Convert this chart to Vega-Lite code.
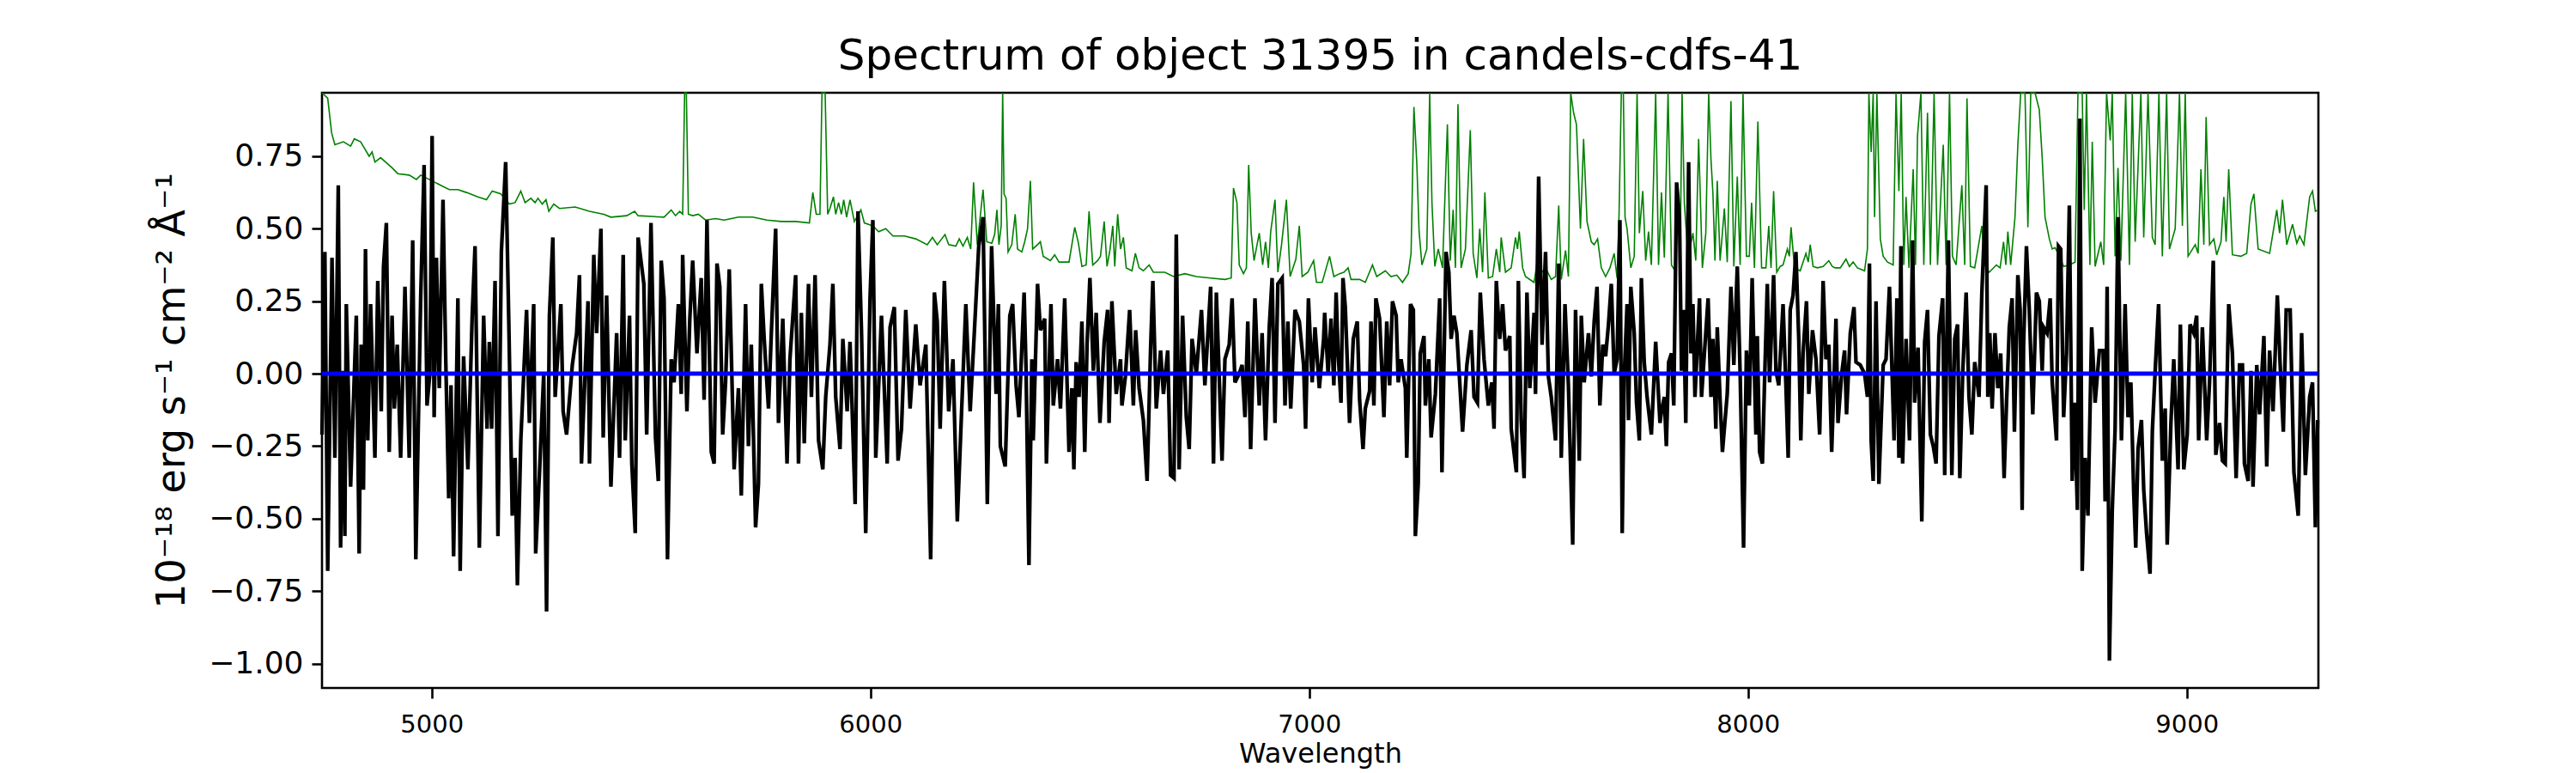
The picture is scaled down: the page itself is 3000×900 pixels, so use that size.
{
  "$schema": "https://vega.github.io/schema/vega-lite/v6.json",
  "width": 2325,
  "height": 693,
  "autosize": {"type": "none"},
  "padding": {"left": 375, "top": 108, "right": 300, "bottom": 99},
  "background": "white",
  "title": {
    "text": "Spectrum of object 31395 in candels-cdfs-41",
    "font": "DejaVu Sans",
    "fontSize": 50,
    "fontWeight": "normal",
    "color": "black",
    "anchor": "middle",
    "frame": "group",
    "baseline": "alphabetic",
    "offset": -26
  },
  "datasets": {
    "model": [{"w":4750,"m":0},{"w":9300,"m":0}],
    "flux": [
      {"w":4750,"f":-0.21},{"w":4756.5,"f":0.42},{"w":4763,"f":-0.68},{"w":4772.8,"f":0.40},{"w":4779.3,"f":-0.29},{"w":4787.1,"f":0.65},{"w":4792.4,"f":-0.60},{"w":4797.6,"f":0.01},{"w":4802.1,"f":-0.56},{"w":4805.4,"f":0.24},
      {"w":4815.2,"f":-0.39},{"w":4828.2,"f":0.20},{"w":4834.7,"f":-0.62},{"w":4839.3,"f":0.10},{"w":4844.5,"f":-0.40},{"w":4849.1,"f":0.43},{"w":4854.3,"f":-0.23},{"w":4860.8,"f":0.24},{"w":4870.6,"f":-0.29},{"w":4877.1,"f":0.32},
      {"w":4885.0,"f":-0.13},{"w":4890.2,"f":0.37},{"w":4896.7,"f":0.52},{"w":4903.2,"f":-0.27},{"w":4909.7,"f":0.20},{"w":4914.9,"f":-0.12},{"w":4921.5,"f":0.10},{"w":4929.3,"f":-0.29},{"w":4939.1,"f":0.30},{"w":4948.8,"f":-0.29},
      {"w":4956.7,"f":0.46},{"w":4963.8,"f":-0.64},{"w":4974.9,"f":0.26},{"w":4982.7,"f":0.72},{"w":4989.3,"f":-0.11},{"w":4995.8,"f":0.00},{"w":5001.0,"f":0.82},{"w":5005.6,"f":-0.15},{"w":5010.8,"f":0.40},{"w":5017.3,"f":-0.05},
      {"w":5025.8,"f":0.60},{"w":5032.3,"f":0.03},{"w":5038.8,"f":-0.43},{"w":5044.0,"f":-0.04},{"w":5049.9,"f":-0.63},{"w":5059.7,"f":0.26},{"w":5064.9,"f":-0.68},{"w":5072.7,"f":0.06},{"w":5082.5,"f":-0.33},{"w":5092.3,"f":0.20},
      {"w":5098.8,"f":0.44},{"w":5108.6,"f":-0.60},{"w":5118.4,"f":0.20},{"w":5126.2,"f":-0.19},{"w":5131.4,"f":0.11},{"w":5136.6,"f":-0.19},{"w":5144.4,"f":0.32},{"w":5151.0,"f":-0.56},{"w":5158.8,"f":0.42},{"w":5168.6,"f":0.73},
      {"w":5175.7,"f":0.18},{"w":5183.6,"f":-0.49},{"w":5190.1,"f":-0.29},{"w":5195.3,"f":-0.73},{"w":5203.1,"f":-0.23},{"w":5216.2,"f":0.22},{"w":5222.7,"f":-0.17},{"w":5232.5,"f":0.24},{"w":5237.0,"f":-0.62},{"w":5245.5,"f":-0.35},
      {"w":5255.3,"f":0.00},{"w":5261.8,"f":-0.82},{"w":5268.3,"f":0.20},{"w":5276.1,"f":0.47},{"w":5281.4,"f":-0.08},{"w":5294.4,"f":0.24},{"w":5299.6,"f":-0.13},{"w":5307.4,"f":-0.21},{"w":5320.5,"f":0.03},{"w":5330.3,"f":0.14},
      {"w":5336.8,"f":0.34},{"w":5341.3,"f":-0.31},{"w":5356.3,"f":0.25},{"w":5359.6,"f":-0.31},{"w":5369.4,"f":0.41},{"w":5375.9,"f":0.14},{"w":5385.7,"f":0.50},{"w":5390.9,"f":-0.22},{"w":5398.7,"f":0.27},{"w":5408.5,"f":-0.39},
      {"w":5421.5,"f":0.14},{"w":5428.1,"f":-0.29},{"w":5436.5,"f":0.41},{"w":5441.1,"f":-0.23},{"w":5450.9,"f":0.20},{"w":5456.1,"f":-0.31},{"w":5463.9,"f":-0.55},{"w":5470.4,"f":0.47},{"w":5483.5,"f":0.31},{"w":5490.0,"f":-0.21},
      {"w":5499.8,"f":0.52},{"w":5510.0,"f":-0.22},{"w":5516.5,"f":-0.37},{"w":5523.1,"f":0.39},{"w":5529.6,"f":0.26},{"w":5537.4,"f":-0.64},{"w":5545.9,"f":0.05},{"w":5552.4,"f":-0.03},{"w":5562.2,"f":0.24},{"w":5568.7,"f":-0.07},
      {"w":5572.0,"f":0.41},{"w":5581.7,"f":-0.13},{"w":5588.3,"f":0.19},{"w":5594.8,"f":0.39},{"w":5604.6,"f":0.07},{"w":5614.3,"f":0.33},{"w":5620.9,"f":-0.09},{"w":5627.4,"f":0.53},{"w":5637.2,"f":-0.27},{"w":5643.7,"f":-0.31},
      {"w":5650.2,"f":0.38},{"w":5656.7,"f":0.30},{"w":5663.2,"f":-0.21},{"w":5669.8,"f":-0.03},{"w":5678.2,"f":0.36},{"w":5689.3,"f":-0.33},{"w":5699.1,"f":-0.05},{"w":5705.6,"f":-0.42},{"w":5715.4,"f":0.24},{"w":5721.9,"f":-0.25},
      {"w":5728.4,"f":0.10},{"w":5738.2,"f":-0.53},{"w":5744.7,"f":-0.38},{"w":5751.3,"f":0.31},{"w":5757.8,"f":0.12},{"w":5767.6,"f":-0.12},{"w":5774.1,"f":0.14},{"w":5783.9,"f":0.50},{"w":5790.4,"f":-0.17},{"w":5800.2,"f":0.19},
      {"w":5809.9,"f":-0.31},{"w":5816.5,"f":0.05},{"w":5829.5,"f":0.34},{"w":5836.0,"f":-0.31},{"w":5842.5,"f":0.21},{"w":5849.1,"f":-0.24},{"w":5858.8,"f":0.31},{"w":5865.4,"f":-0.08},{"w":5873.8,"f":0.34},{"w":5881.7,"f":-0.23},
      {"w":5891.4,"f":-0.33},{"w":5898.0,"f":-0.08},{"w":5907.7,"f":0.10},{"w":5914.3,"f":0.31},{"w":5920.8,"f":-0.08},{"w":5930.6,"f":-0.26},{"w":5937.1,"f":0.12},{"w":5946.9,"f":-0.13},{"w":5953.4,"f":0.11},{"w":5965.1,"f":-0.45},
      {"w":5971.6,"f":0.56},{"w":5979.5,"f":0.15},{"w":5989.2,"f":-0.55},{"w":5999.0,"f":0.26},{"w":6005.5,"f":0.53},{"w":6012.1,"f":-0.29},{"w":6025.1,"f":0.20},{"w":6038.1,"f":-0.31},{"w":6044.7,"f":0.16},{"w":6054.4,"f":0.23},
      {"w":6062.9,"f":-0.30},{"w":6070.7,"f":-0.19},{"w":6080.5,"f":0.22},{"w":6090.3,"f":-0.12},{"w":6103.3,"f":0.17},{"w":6113.1,"f":-0.04},{"w":6126.2,"f":0.10},{"w":6137.2,"f":-0.64},{"w":6145.7,"f":0.28},{"w":6152.2,"f":0.18},
      {"w":6158.8,"f":-0.19},{"w":6168.5,"f":0.32},{"w":6178.3,"f":-0.13},{"w":6188.1,"f":0.05},{"w":6197.9,"f":-0.51},{"w":6207.7,"f":-0.13},{"w":6217.4,"f":0.24},{"w":6227.2,"f":-0.13},{"w":6237.0,"f":0.15},{"w":6246.8,"f":0.44},
      {"w":6256.6,"f":0.54},{"w":6266.3,"f":-0.45},{"w":6276.1,"f":0.44},{"w":6286.3,"f":-0.07},{"w":6291.5,"f":0.24},{"w":6296.0,"f":-0.25},{"w":6307.1,"f":-0.32},{"w":6317.6,"f":0.20},{"w":6324.1,"f":0.24},{"w":6331.9,"f":-0.04},
      {"w":6338.4,"f":-0.15},{"w":6350.2,"f":0.28},{"w":6354.7,"f":0.01},{"w":6361.2,"f":-0.66},{"w":6367.8,"f":0.05},{"w":6371.0,"f":-0.23},{"w":6380.8,"f":0.31},{"w":6387.3,"f":0.15},{"w":6397.1,"f":0.19},{"w":6401.0,"f":-0.31},
      {"w":6411.4,"f":0.24},{"w":6416.7,"f":-0.11},{"w":6426.4,"f":0.05},{"w":6433.0,"f":-0.12},{"w":6442.7,"f":0.26},{"w":6452.5,"f":-0.27},{"w":6459.0,"f":-0.05},{"w":6463.6,"f":-0.33},{"w":6468.8,"f":0.04},{"w":6475.3,"f":-0.08},
      {"w":6481.9,"f":0.18},{"w":6488.4,"f":-0.27},{"w":6493.6,"f":0.10},{"w":6500.1,"f":0.33},{"w":6508.0,"f":0.01},{"w":6514.5,"f":0.21},{"w":6523.0,"f":-0.17},{"w":6532.7,"f":0.11},{"w":6540.5,"f":0.22},{"w":6543.8,"f":-0.17},
      {"w":6550.3,"f":0.25},{"w":6560.1,"f":-0.07},{"w":6569.9,"f":0.05},{"w":6573.1,"f":-0.11},{"w":6581.0,"f":-0.01},{"w":6590.7,"f":0.22},{"w":6599.2,"f":-0.11},{"w":6604.4,"f":0.15},{"w":6612.3,"f":-0.05},{"w":6622.0,"f":-0.16},
      {"w":6630.5,"f":-0.37},{"w":6638.3,"f":0.08},{"w":6643.6,"f":0.32},{"w":6651.4,"f":-0.12},{"w":6661.2,"f":0.08},{"w":6667.7,"f":-0.07},{"w":6677.5,"f":0.08},{"w":6684.0,"f":-0.35},{"w":6691.8,"f":-0.36},{"w":6697.0,"f":0.48},
      {"w":6703.5,"f":-0.33},{"w":6711.4,"f":0.20},{"w":6719.8,"f":-0.15},{"w":6726.4,"f":-0.26},{"w":6732.9,"f":0.12},{"w":6742.7,"f":0.00},{"w":6754.4,"f":0.22},{"w":6762.2,"f":-0.04},{"w":6775.3,"f":0.30},{"w":6781.8,"f":-0.31},
      {"w":6788.3,"f":0.28},{"w":6801.3,"f":-0.30},{"w":6807.9,"f":0.05},{"w":6817.6,"f":0.10},{"w":6824.2,"f":0.26},{"w":6830.7,"f":-0.03},{"w":6840.5,"f":0.00},{"w":6847.0,"f":0.03},{"w":6853.5,"f":-0.15},{"w":6860.0,"f":0.18},
      {"w":6866.5,"f":-0.26},{"w":6876.3,"f":0.26},{"w":6886.1,"f":-0.11},{"w":6892.6,"f":0.14},{"w":6900.4,"f":-0.23},{"w":6908.9,"f":0.16},{"w":6915.4,"f":0.33},{"w":6922.0,"f":-0.17},{"w":6928.5,"f":0.31},{"w":6938.3,"f":0.33},
      {"w":6944.8,"f":-0.11},{"w":6951.3,"f":0.18},{"w":6957.8,"f":-0.12},{"w":6967.6,"f":0.22},{"w":6977.4,"f":0.18},{"w":6987.2,"f":0.03},{"w":6991.7,"f":-0.19},{"w":6998.2,"f":0.26},{"w":7006.7,"f":-0.03},{"w":7013.2,"f":0.16},
      {"w":7023.0,"f":-0.05},{"w":7032.8,"f":0.12},{"w":7035.2,"f":0.21},{"w":7043.0,"f":0.00},{"w":7049.6,"f":0.19},{"w":7056.1,"f":-0.04},{"w":7061.3,"f":0.28},{"w":7065.9,"f":0.07},{"w":7072.4,"f":-0.10},{"w":7076.9,"f":0.33},
      {"w":7082.2,"f":0.23},{"w":7091.9,"f":-0.17},{"w":7100.4,"f":0.12},{"w":7109.5,"f":0.18},{"w":7114.8,"f":-0.09},{"w":7122.6,"f":-0.26},{"w":7127.8,"f":-0.12},{"w":7137.6,"f":-0.06},{"w":7140.8,"f":0.18},{"w":7147.4,"f":-0.11},
      {"w":7151.9,"f":0.26},{"w":7160.4,"f":0.19},{"w":7170.2,"f":-0.15},{"w":7176.7,"f":0.18},{"w":7183.2,"f":-0.04},{"w":7189.7,"f":0.25},{"w":7198.2,"f":0.20},{"w":7202.8,"f":-0.03},{"w":7209.3,"f":0.05},{"w":7219.1,"f":-0.05},
      {"w":7222.3,"f":-0.29},{"w":7230.8,"f":0.24},{"w":7237.3,"f":0.22},{"w":7241.9,"f":-0.56},{"w":7248.4,"f":-0.38},{"w":7253.0,"f":0.07},{"w":7261.5,"f":0.13},{"w":7264.7,"f":-0.11},{"w":7272.5,"f":0.05},{"w":7277.8,"f":-0.22},
      {"w":7287.5,"f":-0.07},{"w":7297.3,"f":0.26},{"w":7302.5,"f":-0.34},{"w":7311.7,"f":0.42},{"w":7318.2,"f":0.35},{"w":7323.4,"f":0.12},{"w":7329.9,"f":0.20},{"w":7336.4,"f":0.14},{"w":7343.0,"f":-0.03},{"w":7349.5,"f":-0.20},
      {"w":7359.3,"f":0.03},{"w":7369.0,"f":0.15},{"w":7375.6,"f":-0.08},{"w":7383.4,"f":-0.10},{"w":7389.9,"f":0.28},{"w":7398.4,"f":0.05},{"w":7408.2,"f":-0.11},{"w":7416.0,"f":-0.03},{"w":7421.2,"f":-0.19},{"w":7426.4,"f":0.32},
      {"w":7434.2,"f":0.12},{"w":7440.8,"f":0.24},{"w":7447.3,"f":0.08},{"w":7457.1,"f":0.13},{"w":7460.3,"f":-0.19},{"w":7472.1,"f":-0.34},{"w":7476.6,"f":0.32},{"w":7483.1,"f":-0.16},{"w":7489.7,"f":-0.36},{"w":7496.2,"f":0.28},
      {"w":7502.7,"f":-0.05},{"w":7512.5,"f":0.21},{"w":7515.7,"f":-0.07},{"w":7522.9,"f":0.68},{"w":7530.7,"f":0.10},{"w":7538.6,"f":0.42},{"w":7545.1,"f":-0.01},{"w":7551.6,"f":-0.08},{"w":7561.4,"f":-0.23},{"w":7568.6,"f":0.38},
      {"w":7574.4,"f":-0.29},{"w":7582.9,"f":0.24},{"w":7590.7,"f":-0.04},{"w":7600.5,"f":-0.59},{"w":7607.0,"f":0.22},{"w":7615.5,"f":-0.30},{"w":7620.1,"f":0.20},{"w":7626.6,"f":-0.03},{"w":7636.4,"f":0.14},{"w":7642.9,"f":-0.01},
      {"w":7649.4,"f":0.18},{"w":7655.9,"f":0.30},{"w":7662.4,"f":-0.11},{"w":7669.0,"f":0.10},{"w":7675.5,"f":0.06},{"w":7682.0,"f":0.17},{"w":7688.5,"f":0.31},{"w":7695.0,"f":0.00},{"w":7701.6,"f":0.05},{"w":7708.1,"f":0.53},
      {"w":7713.3,"f":-0.55},{"w":7717.9,"f":-0.01},{"w":7724.4,"f":0.24},{"w":7727.6,"f":-0.16},{"w":7732.9,"f":0.30},{"w":7740.7,"f":0.14},{"w":7745.9,"f":-0.10},{"w":7752.4,"f":-0.23},{"w":7757.0,"f":0.33},{"w":7763.5,"f":0.04},
      {"w":7770.0,"f":-0.08},{"w":7779.8,"f":-0.21},{"w":7789.6,"f":0.11},{"w":7799.4,"f":-0.17},{"w":7802.8,"f":-0.13},{"w":7809.3,"f":-0.08},{"w":7813.9,"f":-0.25},{"w":7819.1,"f":0.04},{"w":7825.6,"f":0.07},{"w":7830.8,"f":-0.11},
      {"w":7837.3,"f":0.66},{"w":7843.9,"f":0.54},{"w":7848.4,"f":0.01},{"w":7853.0,"f":0.22},{"w":7858.2,"f":-0.17},{"w":7864.7,"f":0.73},{"w":7869.9,"f":0.07},{"w":7874.5,"f":0.24},{"w":7879.1,"f":-0.08},{"w":7889.5,"f":0.26},
      {"w":7894.1,"f":-0.08},{"w":7900.6,"f":0.07},{"w":7909.1,"f":0.26},{"w":7915.6,"f":-0.08},{"w":7920.1,"f":0.12},{"w":7926.7,"f":-0.19},{"w":7929.9,"f":0.16},{"w":7936.4,"f":-0.09},{"w":7941.7,"f":-0.27},{"w":7952.7,"f":-0.07},
      {"w":7961.2,"f":0.30},{"w":7967.7,"f":0.03},{"w":7975.6,"f":0.37},{"w":7982.1,"f":0.00},{"w":7989.9,"f":-0.60},{"w":7996.4,"f":0.08},{"w":8003.0,"f":-0.11},{"w":8009.5,"f":0.33},{"w":8018.0,"f":-0.21},{"w":8021.2,"f":0.13},
      {"w":8026.4,"f":-0.27},{"w":8032.9,"f":-0.31},{"w":8037.5,"f":-0.04},{"w":8044.0,"f":0.31},{"w":8049.2,"f":-0.03},{"w":8058.4,"f":0.34},{"w":8063.6,"f":0.01},{"w":8070.1,"f":-0.04},{"w":8079.9,"f":0.24},{"w":8086.4,"f":-0.04},
      {"w":8091.6,"f":-0.29},{"w":8096.2,"f":0.22},{"w":8102.7,"f":0.27},{"w":8109.2,"f":0.42},{"w":8115.7,"f":0.12},{"w":8120.3,"f":-0.23},{"w":8125.5,"f":0.07},{"w":8133.3,"f":0.25},{"w":8138.6,"f":-0.07},{"w":8147.0,"f":0.15},
      {"w":8154.9,"f":0.05},{"w":8163.3,"f":-0.21},{"w":8171.2,"f":0.32},{"w":8177.7,"f":0.05},{"w":8184.2,"f":0.10},{"w":8190.7,"f":-0.27},{"w":8200.5,"f":0.19},{"w":8205.1,"f":-0.17},{"w":8213.5,"f":0.00},{"w":8220.1,"f":0.08},
      {"w":8224.6,"f":-0.14},{"w":8233.1,"f":0.14},{"w":8241.6,"f":0.23},{"w":8246.1,"f":0.04},{"w":8255.9,"f":0.03},{"w":8265.7,"f":0.00},{"w":8272.2,"f":-0.08},{"w":8276.8,"f":0.38},{"w":8280.7,"f":-0.23},{"w":8285.3,"f":-0.37},
      {"w":8291.8,"f":0.25},{"w":8298.3,"f":-0.38},{"w":8308.1,"f":0.03},{"w":8314.6,"f":0.05},{"w":8322.4,"f":0.30},{"w":8327.6,"f":0.04},{"w":8332.9,"f":-0.23},{"w":8339.4,"f":0.26},{"w":8343.9,"f":-0.29},{"w":8348.5,"f":0.44},
      {"w":8352.4,"f":-0.31},{"w":8360.2,"f":0.12},{"w":8368.1,"f":-0.23},{"w":8375.2,"f":0.46},{"w":8379.8,"f":-0.10},{"w":8387.6,"f":0.09},{"w":8396.1,"f":-0.51},{"w":8402.6,"f":0.11},{"w":8409.1,"f":0.22},{"w":8415.7,"f":-0.21},
      {"w":8422.2,"f":-0.25},{"w":8428.7,"f":-0.31},{"w":8435.2,"f":0.13},{"w":8443.7,"f":0.26},{"w":8448.3,"f":-0.35},{"w":8456.7,"f":0.46},{"w":8464.6,"f":-0.35},{"w":8471.1,"f":0.12},{"w":8477.6,"f":0.17},{"w":8482.8,"f":-0.36},
      {"w":8489.3,"f":0.00},{"w":8497.2,"f":0.28},{"w":8503.7,"f":-0.08},{"w":8510.2,"f":-0.21},{"w":8516.7,"f":0.04},{"w":8526.5,"f":-0.08},{"w":8533.0,"f":0.28},{"w":8542.8,"f":0.65},{"w":8546.6,"f":-0.08},{"w":8551.1,"f":0.14},
      {"w":8556.4,"f":-0.12},{"w":8562.9,"f":0.14},{"w":8569.4,"f":-0.05},{"w":8575.9,"f":0.07},{"w":8583.7,"f":-0.36},{"w":8589.0,"f":-0.11},{"w":8595.5,"f":0.16},{"w":8602.0,"f":0.26},{"w":8607.2,"f":-0.20},{"w":8615.0,"f":0.34},
      {"w":8620.3,"f":0.22},{"w":8624.8,"f":-0.47},{"w":8628.1,"f":0.10},{"w":8634.6,"f":0.44},{"w":8641.1,"f":0.22},{"w":8649.0,"f":-0.14},{"w":8657.4,"f":0.28},{"w":8663.9,"f":0.25},{"w":8670.5,"f":0.01},{"w":8673.7,"f":0.16},
      {"w":8681.5,"f":0.14},{"w":8688.7,"f":0.26},{"w":8693.3,"f":-0.03},{"w":8703.1,"f":-0.23},{"w":8707.6,"f":0.44},{"w":8712.8,"f":0.43},{"w":8719.4,"f":-0.15},{"w":8725.9,"f":0.07},{"w":8732.4,"f":0.58},{"w":8738.9,"f":-0.37},
      {"w":8744.1,"f":-0.10},{"w":8750.7,"f":-0.47},{"w":8756.5,"f":0.88},{"w":8761.7,"f":-0.68},{"w":8768.3,"f":-0.29},{"w":8774.8,"f":-0.49},{"w":8783.3,"f":0.16},{"w":8791.1,"f":-0.10},{"w":8800.9,"f":0.08},{"w":8809.3,"f":0.08},
      {"w":8813.9,"f":-0.44},{"w":8818.5,"f":0.30},{"w":8823.7,"f":-0.99},{"w":8830.2,"f":-0.47},{"w":8836.7,"f":-0.19},{"w":8843.2,"f":0.54},{"w":8851.1,"f":-0.23},{"w":8859.5,"f":0.24},{"w":8866.1,"f":-0.15},{"w":8872.6,"f":-0.03},
      {"w":8879.1,"f":-0.41},{"w":8883.7,"f":-0.60},{"w":8888.9,"f":-0.26},{"w":8896.7,"f":-0.16},{"w":8901.9,"f":-0.40},{"w":8908.4,"f":-0.55},{"w":8916.3,"f":-0.69},{"w":8921.5,"f":-0.20},{"w":8928.0,"f":0.01},{"w":8935.8,"f":0.24},
      {"w":8944.3,"f":-0.30},{"w":8950.8,"f":-0.12},{"w":8955.4,"f":-0.59},{"w":8963.9,"f":-0.17},{"w":8970.4,"f":0.05},{"w":8980.2,"f":-0.33},{"w":8985.4,"f":0.17},{"w":8993.2,"f":-0.33},{"w":9001.0,"f":-0.21},{"w":9007.5,"f":0.17},
      {"w":9016.0,"f":0.14},{"w":9022.5,"f":0.20},{"w":9027.1,"f":-0.23},{"w":9035.6,"f":0.16},{"w":9045.4,"f":-0.23},{"w":9051.9,"f":-0.03},{"w":9060.4,"f":0.39},{"w":9066.2,"f":-0.28},{"w":9074.7,"f":-0.17},{"w":9081.2,"f":-0.30},
      {"w":9087.7,"f":-0.31},{"w":9095.6,"f":0.24},{"w":9104.0,"f":0.07},{"w":9112.5,"f":-0.36},{"w":9120.3,"f":0.03},{"w":9126.9,"f":0.03},{"w":9131.4,"f":-0.31},{"w":9139.9,"f":-0.37},{"w":9146.4,"f":0.01},{"w":9151.0,"f":-0.39},
      {"w":9159.5,"f":0.03},{"w":9166.0,"f":-0.14},{"w":9175.8,"f":0.13},{"w":9182.3,"f":-0.32},{"w":9188.8,"f":0.08},{"w":9196.6,"f":-0.13},{"w":9206.4,"f":0.27},{"w":9212.9,"f":0.03},{"w":9220.1,"f":-0.20},{"w":9226.6,"f":0.22},
      {"w":9235.7,"f":0.22},{"w":9244.2,"f":-0.34},{"w":9254.0,"f":-0.49},{"w":9261.8,"f":0.14},{"w":9270.3,"f":-0.35},{"w":9280.1,"f":-0.08},{"w":9286.6,"f":-0.03},{"w":9293.1,"f":-0.53},{"w":9298.3,"f":-0.16}
    ],
    "sky": [
      {"w":4750,"e":1.2},{"w":4763,"e":0.95},{"w":4772,"e":0.83},{"w":4779.3,"e":0.79},{"w":4798.9,"e":0.80},{"w":4815.2,"e":0.785},{"w":4823.7,"e":0.81},{"w":4838.0,"e":0.80},{"w":4857.6,"e":0.75},{"w":4864.1,"e":0.765},
      {"w":4870.6,"e":0.73},{"w":4883.6,"e":0.745},{"w":4909.7,"e":0.71},{"w":4922.8,"e":0.69},{"w":4948.8,"e":0.685},{"w":4965.1,"e":0.67},{"w":4974.9,"e":0.685},{"w":5001.0,"e":0.665},{"w":5020.6,"e":0.65},{"w":5040.1,"e":0.635},
      {"w":5059.7,"e":0.635},{"w":5079.2,"e":0.625},{"w":5105.3,"e":0.61},{"w":5124.9,"e":0.60},{"w":5137.9,"e":0.63},{"w":5157.5,"e":0.62},{"w":5177.0,"e":0.585},{"w":5190.1,"e":0.59},{"w":5203.1,"e":0.63},{"w":5212.9,"e":0.59},
      {"w":5225.9,"e":0.605},{"w":5235.7,"e":0.59},{"w":5242.2,"e":0.605},{"w":5252.0,"e":0.585},{"w":5260.5,"e":0.60},{"w":5267.0,"e":0.56},{"w":5278.1,"e":0.585},{"w":5291.2,"e":0.57},{"w":5327.0,"e":0.575},{"w":5359.6,"e":0.56},
      {"w":5392.2,"e":0.55},{"w":5408.5,"e":0.54},{"w":5444.4,"e":0.545},{"w":5462.6,"e":0.56},{"w":5470.4,"e":0.545},{"w":5529.6,"e":0.54},{"w":5545.9,"e":0.565},{"w":5555.7,"e":0.545},{"w":5565.4,"e":0.56},{"w":5572.0,"e":0.55},
      {"w":5576.5,"e":1.5},{"w":5580.4,"e":1.5},{"w":5585.0,"e":0.55},{"w":5594.8,"e":0.545},{"w":5607.8,"e":0.55},{"w":5624.1,"e":0.53},{"w":5646.9,"e":0.535},{"w":5666.5,"e":0.53},{"w":5699.1,"e":0.54},{"w":5731.7,"e":0.54},
      {"w":5764.3,"e":0.53},{"w":5796.9,"e":0.525},{"w":5829.5,"e":0.525},{"w":5860.8,"e":0.52},{"w":5868.6,"e":0.625},{"w":5876.4,"e":0.55},{"w":5884.9,"e":0.55},{"w":5889.5,"e":1.5},{"w":5896.7,"e":1.5},{"w":5902.5,"e":0.55},
      {"w":5907.7,"e":0.57},{"w":5915.6,"e":0.61},{"w":5920.8,"e":0.55},{"w":5927.3,"e":0.59},{"w":5933.8,"e":0.55},{"w":5939.0,"e":0.60},{"w":5945.6,"e":0.54},{"w":5953.4,"e":0.60},{"w":5963.2,"e":0.525},{"w":5978.2,"e":0.565},
      {"w":5986.0,"e":0.52},{"w":6005.5,"e":0.51},{"w":6018.6,"e":0.49},{"w":6034.9,"e":0.50},{"w":6051.2,"e":0.475},{"w":6077.3,"e":0.475},{"w":6103.3,"e":0.465},{"w":6129.4,"e":0.445},{"w":6141.2,"e":0.47},{"w":6152.2,"e":0.445},
      {"w":6169.8,"e":0.48},{"w":6178.3,"e":0.445},{"w":6194.6,"e":0.44},{"w":6202.4,"e":0.465},{"w":6210.9,"e":0.44},{"w":6220.7,"e":0.47},{"w":6228.5,"e":0.43},{"w":6235.0,"e":0.66},{"w":6243.5,"e":0.445},{"w":6256.6,"e":0.635},
      {"w":6265.0,"e":0.455},{"w":6276.5,"e":0.45},{"w":6283.0,"e":0.48},{"w":6288.2,"e":0.565},{"w":6292.8,"e":0.445},{"w":6298.0,"e":0.51},{"w":6301.3,"e":1.5},{"w":6304.5,"e":0.62},{"w":6309.1,"e":0.605},{"w":6313.6,"e":0.42},
      {"w":6322.1,"e":0.445},{"w":6329.9,"e":0.55},{"w":6335.2,"e":0.43},{"w":6345.0,"e":0.42},{"w":6351.5,"e":0.455},{"w":6358.0,"e":0.50},{"w":6364.5,"e":0.665},{"w":6369.7,"e":0.43},{"w":6380.8,"e":0.445},{"w":6387.3,"e":0.455},
      {"w":6393.8,"e":0.405},{"w":6410.1,"e":0.39},{"w":6419.9,"e":0.41},{"w":6429.7,"e":0.385},{"w":6452.5,"e":0.385},{"w":6465.6,"e":0.505},{"w":6474.0,"e":0.45},{"w":6481.9,"e":0.37},{"w":6491.6,"e":0.375},{"w":6498.2,"e":0.56},
      {"w":6506.6,"e":0.375},{"w":6517.7,"e":0.39},{"w":6524.2,"e":0.405},{"w":6532.7,"e":0.525},{"w":6539.2,"e":0.37},{"w":6545.7,"e":0.425},{"w":6552.3,"e":0.51},{"w":6556.8,"e":0.37},{"w":6563.4,"e":0.55},{"w":6569.9,"e":0.43},
      {"w":6576.4,"e":0.47},{"w":6582.9,"e":0.365},{"w":6596.0,"e":0.355},{"w":6603.8,"e":0.415},{"w":6612.3,"e":0.365},{"w":6622.0,"e":0.355},{"w":6635.1,"e":0.375},{"w":6644.9,"e":0.35},{"w":6671.0,"e":0.35},{"w":6690.5,"e":0.335},
      {"w":6716.6,"e":0.345},{"w":6742.7,"e":0.335},{"w":6775.3,"e":0.33},{"w":6807.9,"e":0.325},{"w":6822.2,"e":0.33},{"w":6827.4,"e":0.64},{"w":6835.2,"e":0.59},{"w":6840.5,"e":0.375},{"w":6850.2,"e":0.345},{"w":6856.8,"e":0.365},
      {"w":6862.0,"e":0.72},{"w":6867.8,"e":0.485},{"w":6874.3,"e":0.39},{"w":6886.1,"e":0.485},{"w":6893.9,"e":0.375},{"w":6900.4,"e":0.455},{"w":6906.9,"e":0.365},{"w":6912.2,"e":0.49},{"w":6922.0,"e":0.60},{"w":6928.5,"e":0.35},
      {"w":6936.9,"e":0.445},{"w":6948.0,"e":0.60},{"w":6956.5,"e":0.335},{"w":6969.5,"e":0.395},{"w":6977.4,"e":0.51},{"w":6983.9,"e":0.335},{"w":6996.9,"e":0.35},{"w":7010.0,"e":0.39},{"w":7016.5,"e":0.315},{"w":7029.5,"e":0.315},
      {"w":7046.3,"e":0.405},{"w":7056.1,"e":0.335},{"w":7069.1,"e":0.345},{"w":7078.9,"e":0.35},{"w":7088.7,"e":0.365},{"w":7095.2,"e":0.325},{"w":7114.8,"e":0.325},{"w":7127.8,"e":0.315},{"w":7144.1,"e":0.375},{"w":7153.9,"e":0.335},
      {"w":7173.4,"e":0.355},{"w":7186.5,"e":0.335},{"w":7199.5,"e":0.34},{"w":7212.6,"e":0.315},{"w":7225.6,"e":0.345},{"w":7232.1,"e":0.415},{"w":7238.6,"e":0.92},{"w":7245.2,"e":0.725},{"w":7250.4,"e":0.49},{"w":7256.9,"e":0.375},
      {"w":7268.0,"e":0.43},{"w":7274.5,"e":1.5},{"w":7279.7,"e":0.59},{"w":7286.2,"e":0.37},{"w":7294.1,"e":0.43},{"w":7303.8,"e":0.365},{"w":7314.9,"e":0.86},{"w":7321.4,"e":0.39},{"w":7328.0,"e":0.565},{"w":7333.2,"e":0.365},
      {"w":7339.0,"e":0.93},{"w":7346.2,"e":0.365},{"w":7356.0,"e":0.43},{"w":7367.1,"e":0.84},{"w":7373.6,"e":0.415},{"w":7382.1,"e":0.33},{"w":7388.6,"e":0.50},{"w":7395.1,"e":0.35},{"w":7400.3,"e":0.625},{"w":7408.2,"e":0.33},
      {"w":7417.9,"e":0.335},{"w":7426.4,"e":0.43},{"w":7434.2,"e":0.35},{"w":7437.5,"e":0.47},{"w":7447.3,"e":0.35},{"w":7460.3,"e":0.365},{"w":7470.1,"e":0.47},{"w":7474.7,"e":0.43},{"w":7478.6,"e":0.49},{"w":7486.4,"e":0.365},
      {"w":7492.9,"e":0.335},{"w":7512.5,"e":0.315},{"w":7522.3,"e":0.415},{"w":7530.7,"e":0.35},{"w":7538.6,"e":0.365},{"w":7551.6,"e":0.325},{"w":7561.4,"e":0.335},{"w":7568.6,"e":0.58},{"w":7574.4,"e":0.325},{"w":7584.2,"e":0.425},
      {"w":7590.7,"e":0.335},{"w":7595.9,"e":1.5},{"w":7602.5,"e":0.90},{"w":7609.0,"e":0.86},{"w":7613.5,"e":0.685},{"w":7618.1,"e":0.50},{"w":7625.3,"e":0.81},{"w":7633.1,"e":0.525},{"w":7642.9,"e":0.455},{"w":7649.4,"e":0.445},
      {"w":7657.2,"e":0.465},{"w":7665.7,"e":0.365},{"w":7675.5,"e":0.335},{"w":7685.3,"e":0.365},{"w":7695.0,"e":0.415},{"w":7701.6,"e":0.33},{"w":7706.1,"e":0.55},{"w":7711.3,"e":1.5},{"w":7715.9,"e":1.5},{"w":7719.8,"e":0.54},
      {"w":7724.4,"e":0.50},{"w":7732.9,"e":0.365},{"w":7740.7,"e":0.405},{"w":7747.2,"e":1.5},{"w":7752.4,"e":0.485},{"w":7760.2,"e":0.63},{"w":7766.8,"e":0.39},{"w":7773.3,"e":0.49},{"w":7779.8,"e":0.375},{"w":7789.6,"e":1.5},
      {"w":7796.1,"e":0.375},{"w":7802.8,"e":0.625},{"w":7809.3,"e":0.40},{"w":7817.8,"e":1.5},{"w":7825.6,"e":0.375},{"w":7833.4,"e":0.355},{"w":7841.9,"e":0.59},{"w":7845.2,"e":0.375},{"w":7849.7,"e":1.5},{"w":7854.9,"e":0.59},
      {"w":7863.4,"e":0.40},{"w":7874.5,"e":0.485},{"w":7881.0,"e":0.39},{"w":7887.5,"e":0.81},{"w":7896.0,"e":0.365},{"w":7903.8,"e":0.485},{"w":7910.4,"e":1.5},{"w":7915.6,"e":0.74},{"w":7920.1,"e":0.62},{"w":7924.7,"e":0.39},
      {"w":7929.9,"e":0.665},{"w":7936.4,"e":0.39},{"w":7946.2,"e":0.57},{"w":7952.7,"e":0.385},{"w":7961.2,"e":0.94},{"w":7967.7,"e":0.37},{"w":7975.6,"e":0.68},{"w":7982.1,"e":0.375},{"w":7988.6,"e":1.5},{"w":7996.4,"e":0.405},
      {"w":8003.0,"e":0.405},{"w":8008.2,"e":0.59},{"w":8014.7,"e":0.365},{"w":8022.5,"e":0.87},{"w":8031.0,"e":0.365},{"w":8040.8,"e":0.365},{"w":8047.3,"e":0.51},{"w":8052.5,"e":0.365},{"w":8058.4,"e":0.63},{"w":8065.5,"e":0.35},
      {"w":8073.4,"e":0.37},{"w":8079.9,"e":0.375},{"w":8089.7,"e":0.43},{"w":8094.2,"e":0.405},{"w":8098.1,"e":0.505},{"w":8106.0,"e":0.365},{"w":8119.0,"e":0.355},{"w":8132.0,"e":0.415},{"w":8137.3,"e":0.385},{"w":8141.8,"e":0.445},
      {"w":8148.3,"e":0.37},{"w":8158.1,"e":0.365},{"w":8171.2,"e":0.37},{"w":8184.2,"e":0.39},{"w":8192.0,"e":0.37},{"w":8198.5,"e":0.365},{"w":8210.3,"e":0.365},{"w":8223.3,"e":0.395},{"w":8231.1,"e":0.37},{"w":8239.6,"e":0.385},
      {"w":8249.4,"e":0.365},{"w":8265.7,"e":0.355},{"w":8272.2,"e":0.43},{"w":8275.5,"e":1.5},{"w":8280.7,"e":0.765},{"w":8285.3,"e":1.5},{"w":8288.5,"e":0.54},{"w":8293.7,"e":1.5},{"w":8301.6,"e":0.465},{"w":8308.1,"e":0.405},
      {"w":8317.9,"e":0.385},{"w":8330.9,"e":0.375},{"w":8337.4,"e":1.5},{"w":8343.9,"e":0.63},{"w":8349.2,"e":1.5},{"w":8355.0,"e":0.375},{"w":8360.2,"e":0.61},{"w":8366.8,"e":0.365},{"w":8376.5,"e":0.705},{"w":8381.8,"e":0.375},
      {"w":8386.3,"e":0.82},{"w":8394.1,"e":1.5},{"w":8400.7,"e":0.375},{"w":8409.1,"e":0.90},{"w":8415.7,"e":0.375},{"w":8424.1,"e":1.5},{"w":8432.0,"e":0.375},{"w":8445.0,"e":0.79},{"w":8451.5,"e":0.375},{"w":8459.3,"e":1.5},
      {"w":8465.9,"e":0.405},{"w":8474.3,"e":0.375},{"w":8487.4,"e":0.65},{"w":8493.9,"e":0.375},{"w":8499.1,"e":0.95},{"w":8506.9,"e":0.37},{"w":8516.7,"e":0.365},{"w":8533.0,"e":0.51},{"w":8539.5,"e":0.375},{"w":8549.8,"e":0.35},
      {"w":8566.1,"e":0.375},{"w":8574.6,"e":0.365},{"w":8582.4,"e":0.455},{"w":8587.7,"e":0.375},{"w":8592.2,"e":0.49},{"w":8598.7,"e":0.375},{"w":8608.5,"e":0.54},{"w":8615.0,"e":0.79},{"w":8621.6,"e":1.5},{"w":8631.3,"e":1.5},
      {"w":8637.9,"e":0.505},{"w":8644.4,"e":1.5},{"w":8654.2,"e":1.5},{"w":8663.9,"e":0.91},{"w":8670.5,"e":0.745},{"w":8677.0,"e":0.54},{"w":8686.8,"e":0.465},{"w":8693.3,"e":0.43},{"w":8699.8,"e":0.435},{"w":8709.6,"e":0.405},
      {"w":8719.4,"e":0.37},{"w":8732.4,"e":0.375},{"w":8745.4,"e":0.385},{"w":8752.0,"e":1.5},{"w":8761.7,"e":1.5},{"w":8766.3,"e":0.565},{"w":8771.5,"e":1.5},{"w":8779.3,"e":0.375},{"w":8784.6,"e":0.80},{"w":8791.1,"e":0.37},
      {"w":8804.1,"e":0.455},{"w":8810.6,"e":0.375},{"w":8817.2,"e":1.5},{"w":8825.6,"e":0.805},{"w":8830.2,"e":1.5},{"w":8836.7,"e":0.405},{"w":8843.2,"e":0.71},{"w":8849.8,"e":0.39},{"w":8860.8,"e":1.5},{"w":8869.3,"e":0.375},
      {"w":8875.8,"e":1.5},{"w":8882.4,"e":0.455},{"w":8895.4,"e":1.5},{"w":8901.9,"e":0.47},{"w":8911.7,"e":1.5},{"w":8921.5,"e":0.47},{"w":8928.0,"e":0.445},{"w":8936.5,"e":1.5},{"w":8944.3,"e":0.405},{"w":8954.1,"e":1.5},
      {"w":8960.6,"e":0.43},{"w":8967.1,"e":0.465},{"w":8973.6,"e":0.50},{"w":8983.4,"e":1.5},{"w":8990.0,"e":0.51},{"w":8996.5,"e":1.5},{"w":9003.0,"e":0.405},{"w":9019.3,"e":0.445},{"w":9025.8,"e":0.415},{"w":9032.3,"e":0.705},
      {"w":9038.9,"e":0.445},{"w":9044.1,"e":0.885},{"w":9051.9,"e":0.445},{"w":9061.7,"e":0.465},{"w":9068.2,"e":0.41},{"w":9078.0,"e":0.455},{"w":9084.5,"e":0.61},{"w":9089.7,"e":0.455},{"w":9095.6,"e":0.705},{"w":9104.0,"e":0.41},
      {"w":9123.6,"e":0.405},{"w":9136.6,"e":0.415},{"w":9146.4,"e":0.585},{"w":9153.0,"e":0.62},{"w":9162.7,"e":0.43},{"w":9188.8,"e":0.415},{"w":9205.1,"e":0.565},{"w":9211.6,"e":0.485},{"w":9218.2,"e":0.60},{"w":9227.9,"e":0.445},
      {"w":9241.0,"e":0.515},{"w":9250.8,"e":0.45},{"w":9257.3,"e":0.475},{"w":9267.0,"e":0.445},{"w":9280.1,"e":0.61},{"w":9286.6,"e":0.63},{"w":9293.1,"e":0.56},{"w":9299.6,"e":0.565}
    ]
  },
  "layer": [
    {
      "data": {"name": "sky"},
      "mark": {"type": "line", "color": "green", "strokeWidth": 1.6},
      "encoding": {
        "x": {"field": "w", "type": "quantitative"},
        "y": {"field": "e", "type": "quantitative"}
      }
    },
    {
      "data": {"name": "flux"},
      "mark": {"type": "line", "color": "black", "strokeWidth": 4.3},
      "encoding": {
        "x": {
          "field": "w",
          "type": "quantitative",
          "title": "Wavelength",
          "scale": {"domain": [4750, 9300], "nice": false, "zero": false},
          "axis": {
            "values": [5000, 6000, 7000, 8000, 9000],
            "format": "d",
            "labelFontSize": 29,
            "labelPadding": 16,
            "titleFontSize": 32,
            "titlePadding": 4
          }
        },
        "y": {
          "field": "f",
          "type": "quantitative",
          "title": "10⁻¹⁸ erg s⁻¹ cm⁻² Å⁻¹",
          "scale": {"domain": [-1.084, 0.969], "nice": false, "zero": false, "clamp": true},
          "axis": {
            "values": [-1, -0.75, -0.5, -0.25, 0, 0.25, 0.5, 0.75],
            "format": ".2f",
            "labelFontSize": 36,
            "titleFontSize": 46,
            "titlePadding": 18
          }
        }
      }
    },
    {
      "data": {"name": "model"},
      "mark": {"type": "line", "color": "blue", "strokeWidth": 5},
      "encoding": {
        "x": {"field": "w", "type": "quantitative"},
        "y": {"field": "m", "type": "quantitative"}
      }
    }
  ],
  "config": {
    "font": "DejaVu Sans",
    "view": {"stroke": "black", "strokeWidth": 2.6},
    "axis": {
      "domain": false,
      "grid": false,
      "ticks": true,
      "tickColor": "black",
      "tickWidth": 2.6,
      "tickSize": 12,
      "labelColor": "black",
      "labelPadding": 10,
      "labelFont": "DejaVu Sans",
      "labelFlush": false,
      "labelOverlap": false,
      "labelBound": false,
      "titleColor": "black",
      "titleFont": "DejaVu Sans",
      "titleFontWeight": "normal"
    }
  }
}
